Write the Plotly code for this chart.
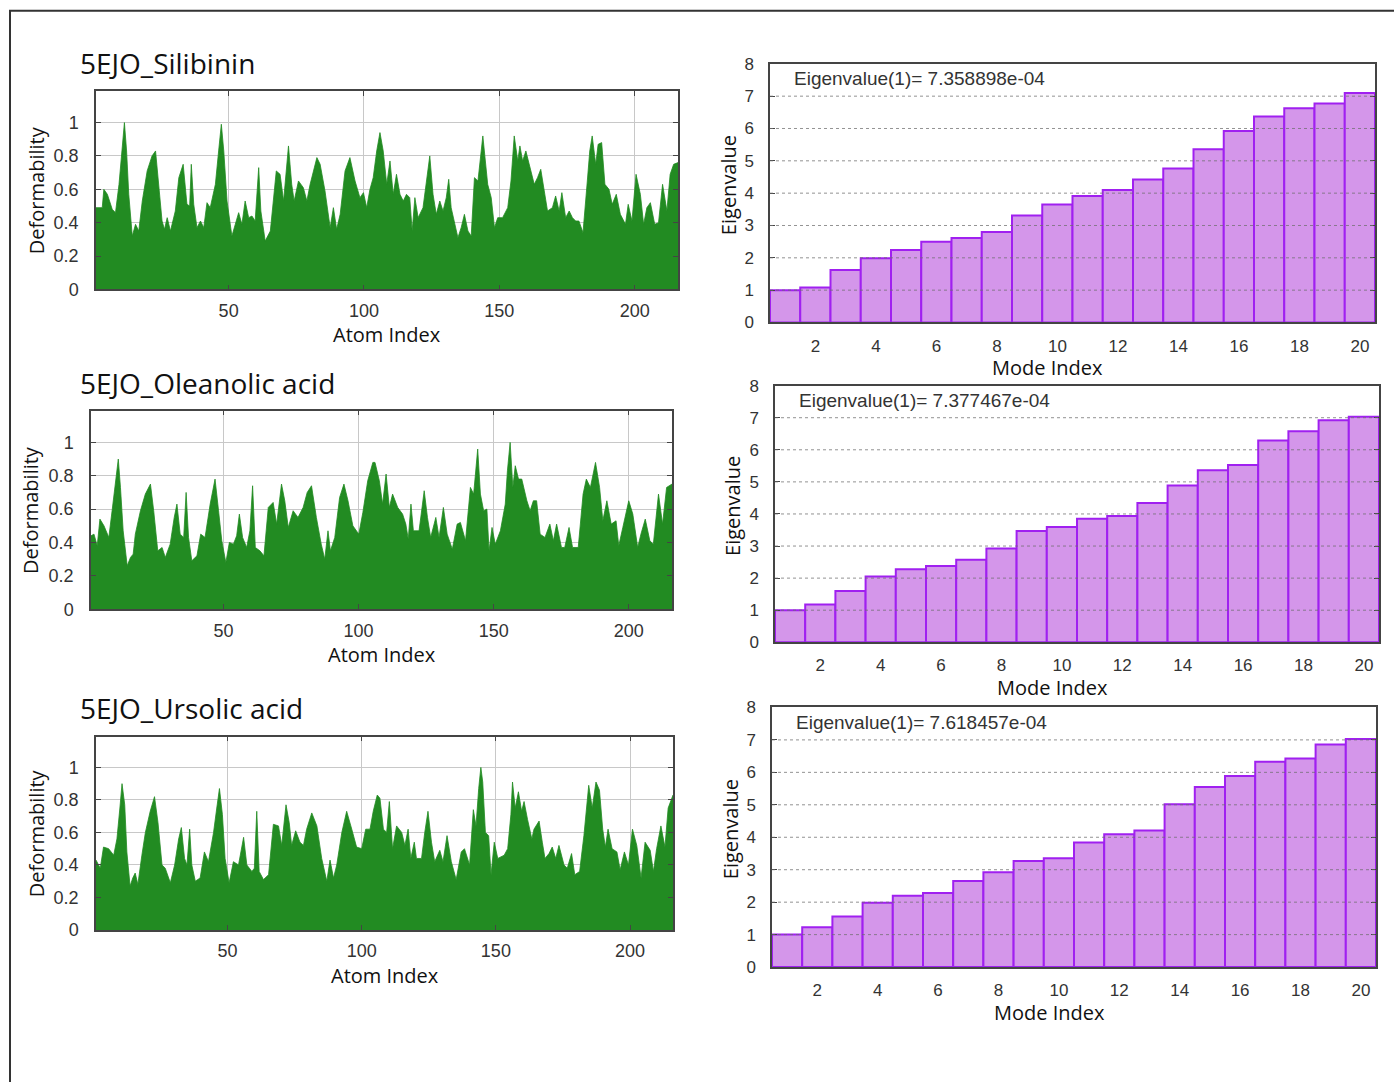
import plotly.graph_objects as go

# ---------------- data ----------------
atom_tick_vals = [50, 100, 150, 200]
def_tick_vals = [0, 0.2, 0.4, 0.6, 0.8, 1.0]
def_tick_text = ["0", "0.2", "0.4", "0.6", "0.8", "1"]
mode_tick_vals = [2, 4, 6, 8, 10, 12, 14, 16, 18, 20]
eig_tick_vals = [0, 1, 2, 3, 4, 5, 6, 7, 8]

panel_titles = ["5EJO_Silibinin", "5EJO_Oleanolic acid", "5EJO_Ursolic acid"]
eig1_labels = ["Eigenvalue(1)= 7.358898e-04", "Eigenvalue(1)= 7.377467e-04",
               "Eigenvalue(1)= 7.618457e-04"]

# Silibinin deformability
sil_atom = [1.0, 3.3, 3.9, 5.2, 7.0, 8.2, 9.5, 10.7, 11.5, 12.3,
            13.1, 14.4, 15.6, 16.8, 18.1, 19.9, 21.7, 23.0, 24.2, 25.4,
            26.3, 27.3, 28.5, 30.3, 31.6, 33.2, 34.6, 35.6, 36.2, 37.1,
            38.3, 39.6, 40.8, 42.0, 43.2, 45.1, 46.3, 47.3, 48.2, 49.4,
            51.2, 52.5, 53.7, 54.9, 56.1, 57.4, 58.6, 59.8, 61.1, 61.9,
            63.5, 65.4, 66.6, 67.6, 69.0, 70.3, 72.1, 73.3, 74.2, 75.8,
            77.6, 78.9, 80.1, 82.6, 83.8, 85.6, 87.5, 88.7, 89.9, 91.2,
            93.0, 94.8, 96.7, 98.5, 99.8, 101.0, 102.2, 103.4, 104.7, 105.9,
            107.1, 108.4, 109.6, 110.8, 112.0, 113.3, 114.5, 115.7, 116.9, 117.8,
            118.8, 120.0, 121.8, 123.1, 124.3, 125.5, 126.7, 128.0, 129.2, 130.4,
            131.3, 132.2, 133.5, 134.7, 135.9, 137.1, 138.4, 139.6, 140.8, 142.1,
            143.9, 144.9, 145.7, 147.0, 148.2, 149.4, 151.2, 153.1, 154.3, 155.5,
            156.8, 157.6, 158.6, 159.8, 161.7, 162.9, 164.1, 165.3, 166.6, 167.8,
            169.6, 170.8, 172.1, 173.1, 174.5, 175.8, 177.0, 178.2, 179.4, 180.9,
            182.5, 183.4, 184.3, 185.6, 186.5, 187.8, 189.0, 190.5, 191.7, 193.2,
            194.7, 196.6, 197.6, 199.0, 200.5, 202.1, 203.3, 204.5, 205.8, 207.4,
            208.8, 210.3, 211.9, 213.1, 214.4, 216.0]
sil_def = [0.49, 0.49, 0.60, 0.57, 0.48, 0.46, 0.63, 0.83, 1.00, 0.83,
           0.57, 0.32, 0.39, 0.35, 0.53, 0.71, 0.80, 0.83, 0.63, 0.41,
           0.36, 0.43, 0.35, 0.47, 0.67, 0.75, 0.51, 0.50, 0.75, 0.51,
           0.37, 0.41, 0.37, 0.52, 0.49, 0.63, 0.83, 0.99, 0.83, 0.53,
           0.32, 0.40, 0.46, 0.39, 0.53, 0.43, 0.44, 0.41, 0.73, 0.47,
           0.29, 0.35, 0.57, 0.71, 0.69, 0.53, 0.86, 0.63, 0.53, 0.65,
           0.61, 0.53, 0.63, 0.79, 0.75, 0.59, 0.37, 0.49, 0.36, 0.45,
           0.71, 0.79, 0.65, 0.55, 0.58, 0.49, 0.60, 0.67, 0.83, 0.94,
           0.83, 0.63, 0.77, 0.57, 0.69, 0.57, 0.53, 0.57, 0.55, 0.35,
           0.55, 0.43, 0.49, 0.67, 0.80, 0.57, 0.45, 0.53, 0.47, 0.55,
           0.66, 0.49, 0.39, 0.31, 0.37, 0.45, 0.35, 0.32, 0.67, 0.65,
           0.92, 0.73, 0.63, 0.55, 0.37, 0.43, 0.43, 0.49, 0.65, 0.92,
           0.77, 0.86, 0.77, 0.83, 0.71, 0.63, 0.67, 0.72, 0.59, 0.47,
           0.49, 0.56, 0.47, 0.58, 0.43, 0.47, 0.43, 0.41, 0.41, 0.34,
           0.65, 0.83, 0.92, 0.75, 0.87, 0.88, 0.63, 0.60, 0.51, 0.57,
           0.45, 0.39, 0.51, 0.41, 0.69, 0.57, 0.39, 0.49, 0.52, 0.39,
           0.40, 0.63, 0.47, 0.69, 0.75, 0.76]

# Oleanolic acid deformability
ole_atom = [1.0, 2.1, 3.3, 4.3, 5.8, 7.6, 8.8, 10.1, 11.1, 11.9,
            12.9, 14.4, 15.6, 16.6, 17.4, 19.3, 21.1, 23.0, 24.2, 25.7,
            27.3, 28.5, 30.3, 31.8, 32.8, 34.0, 35.3, 36.2, 37.1, 38.3,
            40.2, 41.6, 43.2, 45.1, 46.9, 48.2, 49.4, 50.9, 52.2, 53.7,
            54.9, 55.9, 57.1, 58.6, 59.8, 60.8, 61.8, 63.5, 65.0, 66.6,
            68.4, 69.7, 71.5, 72.7, 74.0, 75.8, 77.6, 79.5, 81.0, 82.6,
            84.4, 86.2, 87.5, 88.7, 89.6, 91.2, 93.0, 94.6, 96.1, 97.9,
            100.1, 101.6, 103.4, 105.3,
            106.1, 107.7, 108.9, 110.2, 111.4, 112.6, 114.5, 116.3, 117.5, 118.4,
            119.4, 120.3, 122.4, 124.3, 125.5, 126.7, 128.6, 129.8, 131.4, 132.8,
            134.7, 136.5, 137.7, 139.6, 141.4, 142.6, 144.1, 145.1, 146.3, 147.5,
            148.3, 149.4, 150.6, 152.5, 154.3, 155.1, 156.1, 157.1, 158.0, 159.2,
            160.4, 162.3, 163.5, 164.7, 165.9, 167.2, 169.0, 170.8, 172.1, 173.3,
            175.1, 176.3, 177.9, 179.2, 181.3, 183.1, 184.3, 185.8, 187.7, 189.2,
            190.4, 191.9, 193.5, 195.3, 196.3, 197.8, 200.0, 201.5, 203.3, 204.5,
            206.1, 207.8, 209.1, 211.0, 212.5, 214.0, 216.0]
ole_def = [0.44, 0.45, 0.38, 0.54, 0.50, 0.43, 0.59, 0.75, 0.90, 0.73,
           0.47, 0.26, 0.31, 0.33, 0.45, 0.59, 0.69, 0.75, 0.59, 0.35,
           0.37, 0.31, 0.39, 0.55, 0.63, 0.45, 0.43, 0.70, 0.43, 0.29,
           0.32, 0.45, 0.43, 0.63, 0.78, 0.59, 0.41, 0.28, 0.40, 0.39,
           0.44, 0.57, 0.43, 0.37, 0.47, 0.74, 0.37, 0.35, 0.32, 0.61,
           0.64, 0.51, 0.75, 0.65, 0.49, 0.59, 0.55, 0.61, 0.70, 0.74,
           0.55, 0.39, 0.30, 0.47, 0.35, 0.43, 0.67, 0.75, 0.65, 0.50,
           0.45, 0.58, 0.77, 0.88,
           0.88, 0.77, 0.63, 0.81, 0.61, 0.69, 0.61, 0.57, 0.51, 0.42,
           0.63, 0.47, 0.47, 0.71, 0.55, 0.43, 0.55, 0.43, 0.61, 0.45,
           0.36, 0.51, 0.52, 0.41, 0.73, 0.69, 0.96, 0.69, 0.59, 0.60,
           0.35, 0.49, 0.39, 0.47, 0.63, 0.83, 1.00, 0.73, 0.86, 0.78,
           0.78, 0.65, 0.59, 0.65, 0.65, 0.45, 0.43, 0.51, 0.41, 0.51,
           0.37, 0.37, 0.49, 0.37, 0.37, 0.69, 0.78, 0.73, 0.88, 0.73,
           0.53, 0.65, 0.51, 0.53, 0.38, 0.49, 0.65, 0.57, 0.37, 0.45,
           0.54, 0.41, 0.39, 0.69, 0.51, 0.73, 0.75]

# Ursolic acid deformability
urs_atom = [1.0, 2.6, 3.8, 5.7, 7.6, 8.8, 9.9, 10.7, 11.7, 12.5,
            13.7, 14.7, 15.6, 16.6, 18.1, 19.4, 21.2, 22.8, 24.1, 25.6,
            26.8, 28.7, 30.3, 31.8, 32.8, 34.0, 34.9, 35.9, 36.7, 38.0,
            39.8, 41.4, 42.9, 44.8, 46.0, 47.0, 48.1, 49.1, 50.6, 52.2,
            54.1, 56.0, 57.2, 59.1, 60.0, 60.9, 61.8, 63.4, 65.3, 67.1,
            69.0, 70.2, 71.8, 73.0, 73.9, 75.4, 77.0, 78.3, 79.5, 81.4,
            83.3, 85.1, 87.0, 88.2, 89.5, 90.7, 92.6, 94.4, 96.3, 98.1,
            100.0, 101.5, 103.1, 104.3, 105.8,
            106.8, 108.1, 109.3, 110.3, 111.5, 113.0, 114.9, 116.1, 117.3, 118.3,
            119.6, 120.4, 122.3, 123.5, 124.7, 126.0, 127.2, 129.1, 130.3, 131.8,
            133.4, 135.2, 137.1, 138.3, 140.2, 141.6, 142.6, 143.6, 144.4, 145.1,
            146.1, 147.3, 148.2, 149.4, 150.7, 153.1, 154.4, 155.6, 156.2, 157.2,
            158.4, 159.6, 160.5, 161.8, 163.4, 164.2, 166.1, 167.3, 168.3, 169.8,
            171.0, 172.3, 173.5, 175.4, 176.6, 178.2, 179.4, 181.2, 182.8, 184.6,
            185.9, 187.3, 188.6, 189.8, 190.8, 191.8, 193.3, 195.1, 196.3, 197.9,
            199.4, 200.9, 202.5, 204.1, 205.6, 207.5, 208.7, 209.9, 211.5, 213.0,
            214.2, 216.0]
urs_def = [0.43, 0.38, 0.51, 0.50, 0.46, 0.56, 0.75, 0.90, 0.77, 0.48,
           0.27, 0.32, 0.35, 0.28, 0.46, 0.60, 0.73, 0.82, 0.66, 0.40,
           0.38, 0.29, 0.40, 0.56, 0.63, 0.44, 0.40, 0.62, 0.40, 0.30,
           0.32, 0.48, 0.42, 0.60, 0.75, 0.87, 0.71, 0.44, 0.29, 0.42,
           0.40, 0.57, 0.40, 0.36, 0.38, 0.73, 0.36, 0.31, 0.34, 0.65,
           0.64, 0.52, 0.77, 0.66, 0.52, 0.61, 0.54, 0.52, 0.62, 0.72,
           0.64, 0.44, 0.30, 0.43, 0.32, 0.40, 0.60, 0.73, 0.62, 0.51,
           0.50, 0.62, 0.62, 0.73, 0.83,
           0.81, 0.62, 0.60, 0.79, 0.50, 0.64, 0.60, 0.52, 0.62, 0.44,
           0.54, 0.44, 0.44, 0.60, 0.73, 0.54, 0.42, 0.49, 0.42, 0.58,
           0.42, 0.31, 0.48, 0.50, 0.40, 0.74, 0.64, 0.87, 1.00, 0.91,
           0.60, 0.58, 0.34, 0.54, 0.44, 0.46, 0.50, 0.71, 0.91, 0.75,
           0.85, 0.73, 0.79, 0.68, 0.56, 0.62, 0.67, 0.54, 0.44, 0.47,
           0.51, 0.44, 0.52, 0.40, 0.38, 0.47, 0.34, 0.36, 0.58, 0.89,
           0.75, 0.91, 0.86, 0.62, 0.51, 0.62, 0.50, 0.48, 0.37, 0.48,
           0.40, 0.62, 0.52, 0.32, 0.54, 0.49, 0.36, 0.50, 0.64, 0.51,
           0.75, 0.83]

# Normalised eigenvalues (modes 1..20)
mode_index = list(range(1, 21))
sil_eig = [1.00, 1.08, 1.62, 1.99, 2.24, 2.50, 2.61, 2.80, 3.31, 3.65,
           3.91, 4.10, 4.42, 4.76, 5.36, 5.92, 6.37, 6.63, 6.77, 7.10]
ole_eig = [1.00, 1.18, 1.60, 2.05, 2.28, 2.38, 2.57, 2.92, 3.47, 3.59,
           3.85, 3.94, 4.34, 4.89, 5.36, 5.53, 6.29, 6.58, 6.92, 7.03]
urs_eig = [1.00, 1.23, 1.56, 1.98, 2.20, 2.28, 2.65, 2.92, 3.27, 3.35,
           3.84, 4.09, 4.21, 5.02, 5.55, 5.89, 6.33, 6.43, 6.86, 7.03]

# ---------------- layout helpers ----------------
W, H = 1394, 1082
# the photographed page appears ~10 px lower and ~2% squeezed vertically;
# these two numbers compensate so the picture lands on the reference pixels
Y_SHIFT, Y_SCALE = 10.3, 0.980


def px(x):
    return x / W


def py(y):
    return 1 - ((y - Y_SHIFT) / Y_SCALE) / H


# boxes in reference pixel coordinates: (left, right, top, bottom)
left_boxes = [(96, 678, 92, 290), (91, 672, 411, 609), (96, 673, 736, 929)]
right_boxes = [(770, 1375, 65, 323), (775, 1379, 386, 642), (772, 1376, 707, 966)]

GREEN = "#228b22"
BAR_FILL = "#d496ea"
BAR_LINE = "#a020f0"
AXC = "#444444"
TICKFONT = "Liberation Sans, Arial, sans-serif"
LABFONT = "Open Sans, sans-serif"

fig = go.Figure()
layout = dict(
    width=W, height=H,
    margin=dict(l=0, r=0, t=0, b=0),
    paper_bgcolor="white", plot_bgcolor="white",
    showlegend=False,
)
annotations = []
shapes = []

def_data = [(sil_atom, sil_def), (ole_atom, ole_def), (urs_atom, urs_def)]
eig_data = [sil_eig, ole_eig, urs_eig]

ax = 0
for i in range(3):
    # ---- left: deformability ----
    ax += 1
    sfx = "" if ax == 1 else str(ax)
    l, r, t, b = left_boxes[i]
    xs, ys = def_data[i]
    fig.add_trace(go.Scatter(x=xs, y=ys, mode="lines", fill="tozeroy",
                             line=dict(color=GREEN, width=0.8), fillcolor=GREEN,
                             xaxis="x" + sfx, yaxis="y" + sfx, hoverinfo="x+y"))
    layout["xaxis" + sfx] = dict(
        domain=[px(l), px(r)], anchor="y" + sfx, range=[1, 216],
        tickvals=atom_tick_vals, showgrid=True, gridcolor="#c8c8c8", gridwidth=1,
        zeroline=False, showline=True, linecolor=AXC, linewidth=1.5, mirror="ticks",
        ticks="inside", ticklen=5, tickcolor=AXC,
        tickfont=dict(family=TICKFONT, size=18, color="#333"), ticklabelstandoff=4,
    )
    layout["yaxis" + sfx] = dict(
        domain=[py(b), py(t)], anchor="x" + sfx, range=[0, 1.19],
        tickvals=def_tick_vals, ticktext=def_tick_text,
        showgrid=True, gridcolor="#c8c8c8", gridwidth=1,
        zeroline=False, showline=True, linecolor=AXC, linewidth=1.5, mirror="ticks",
        ticks="inside", ticklen=5, tickcolor=AXC,
        tickfont=dict(family=TICKFONT, size=18, color="#333"), ticklabelstandoff=12,
    )
    annotations.append(dict(text=panel_titles[i], x=px(78), y=py(t - 28), xref="paper", yref="paper",
                            xanchor="left", yanchor="middle", showarrow=False,
                            font=dict(family=LABFONT, size=28, color="#111")))
    annotations.append(dict(text="Atom Index", x=px((l + r) / 2), y=py(b + 45), xref="paper", yref="paper",
                            xanchor="center", yanchor="middle", showarrow=False,
                            font=dict(family=LABFONT, size=20, color="#111")))
    annotations.append(dict(text="Deformability", x=px(l - 60), y=py((t + b) / 2), xref="paper", yref="paper",
                            xanchor="center", yanchor="middle", showarrow=False, textangle=-90,
                            font=dict(family=LABFONT, size=20, color="#111")))

    # ---- right: eigenvalues ----
    ax += 1
    sfx = str(ax)
    l, r, t, b = right_boxes[i]
    fig.add_trace(go.Bar(x=mode_index, y=eig_data[i], width=1,
                         marker=dict(color=BAR_FILL, line=dict(color=BAR_LINE, width=2)),
                         xaxis="x" + sfx, yaxis="y" + sfx, hoverinfo="x+y"))
    layout["xaxis" + sfx] = dict(
        domain=[px(l), px(r)], anchor="y" + sfx, range=[0.5, 20.5],
        tickvals=mode_tick_vals, showgrid=False,
        zeroline=False, showline=True, linecolor=AXC, linewidth=1.5, mirror=True,
        ticks="", tickfont=dict(family=TICKFONT, size=17, color="#333"), ticklabelstandoff=7,
    )
    layout["yaxis" + sfx] = dict(
        domain=[py(b), py(t)], anchor="x" + sfx, range=[0, 8],
        tickvals=eig_tick_vals, showgrid=False,
        zeroline=False, showline=True, linecolor=AXC, linewidth=1.5, mirror="ticks",
        ticks="inside", ticklen=5, tickcolor=AXC,
        tickfont=dict(family=TICKFONT, size=17, color="#333"), ticklabelstandoff=11,
    )
    for v in eig_tick_vals[1:-1]:
        shapes.append(dict(type="line", xref="x" + sfx + " domain", yref="y" + sfx,
                           x0=0, x1=1, y0=v, y1=v, layer="above",
                           line=dict(color="rgba(110,110,110,0.75)", width=1, dash="dot")))
    annotations.append(dict(text=eig1_labels[i], x=px(l + 22), y=py(t + 15), xref="paper", yref="paper",
                            xanchor="left", yanchor="middle", showarrow=False,
                            font=dict(family=TICKFONT, size=19, color="#333")))
    annotations.append(dict(text="Mode Index", x=px((l + r) / 2 - 25), y=py(b + 45), xref="paper", yref="paper",
                            xanchor="center", yanchor="middle", showarrow=False,
                            font=dict(family=LABFONT, size=20, color="#111")))
    annotations.append(dict(text="Eigenvalue", x=px(l - 42), y=py((t + b) / 2 - 8), xref="paper", yref="paper",
                            xanchor="center", yanchor="middle", showarrow=False, textangle=-90,
                            font=dict(family=LABFONT, size=20, color="#111")))

# outer frame (right / bottom edges lie outside the page, as in the reference)
shapes.append(dict(type="rect", xref="paper", yref="paper",
                   x0=px(10), x1=px(1420), y0=-0.05, y1=py(12),
                   line=dict(color="#333", width=2), fillcolor="rgba(0,0,0,0)", layer="above"))

layout["annotations"] = annotations
layout["shapes"] = shapes
fig.update_layout(**layout)

# pin the graph div to the top-left corner of the page (no body margin / scrolling)
pin_js = ("document.body.style.margin='0';document.body.style.overflow='hidden';"
          "var gd=document.getElementById('{plot_id}');gd.style.position='fixed';"
          "gd.style.left='0px';gd.style.top='0px';")
fig.write_html("out.html", post_script=pin_js, config={"displayModeBar": False})
